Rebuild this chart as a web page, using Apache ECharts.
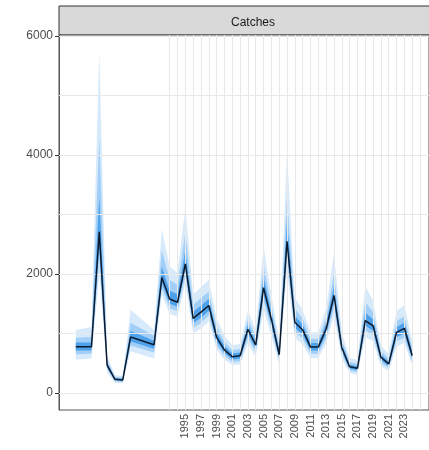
<!DOCTYPE html>
<html>
<head>
<meta charset="utf-8">
<script src="https://cdn.jsdelivr.net/npm/echarts@6/dist/echarts.min.js"></script>
<style>
html,body{margin:0;padding:0;background:#fff;}
#chart{width:429px;height:450px;}
</style>
</head>
<body>
<div id="chart"></div>
<script>
const years   = [1981,1983,1984,1985,1986,1987,1988,1991,1992,1993,1994,1995,1996,1997,1998,1999,2000,2001,2002,2003,2004,2005,2006,2007,2008,2009,2010,2011,2012,2013,2014,2015,2016,2017,2018,2019,2020,2021,2022,2023,2024];
const catches = [778,778,2711,470,230,220,940,810,1940,1580,1525,2170,1255,1360,1470,935,725,610,625,1070,807,1770,1240,645,2550,1190,1060,775,775,1075,1640,765,442,415,1215,1130,600,490,1020,1087,630];
const hiOuter = [1060,1110,5730,620,300,290,1400,1060,2750,2120,2020,3130,1650,1780,1900,1250,960,800,830,1380,1060,2460,1650,870,4050,1600,1400,1020,1020,1420,2350,1020,590,560,1800,1550,800,660,1380,1480,860];
const loOuter = [560,580,2000,350,170,165,700,580,1650,1330,1280,1850,1000,1080,1200,730,560,470,480,830,610,1400,960,480,2050,920,820,590,590,830,1300,580,330,310,940,870,450,370,780,840,470];
const hiMid   = [930,940,4300,560,270,260,1180,960,2400,1900,1820,2700,1480,1600,1700,1110,860,720,740,1240,950,2150,1460,770,3300,1420,1250,910,910,1260,2000,900,520,490,1530,1360,710,580,1210,1290,750];
const loMid   = [650,660,2250,400,195,185,800,680,1760,1420,1380,1970,1090,1180,1300,800,625,520,535,920,690,1560,1070,550,2250,1020,910,660,660,920,1430,650,375,350,1050,970,510,415,870,930,535];
const hiInner = [850,850,3300,510,250,240,1040,880,2120,1720,1660,2400,1360,1470,1580,1020,790,665,680,1150,875,1950,1350,705,2900,1300,1150,840,840,1160,1800,830,480,450,1350,1240,650,530,1110,1180,690];
const loInner = [715,715,2450,432,212,202,865,745,1850,1500,1450,2070,1170,1265,1380,865,670,562,575,990,745,1650,1150,595,2400,1100,980,715,715,990,1530,705,408,382,1130,1045,555,450,940,1000,580];
const xTickYears = [1995,1997,1999,2001,2003,2005,2007,2009,2011,2013,2015,2017,2019,2021,2023];
const yTicks = [0,2000,4000,6000];
const yGrid = [0,1000,2000,3000,4000,5000,6000];
const xGrid = [1993,1994,1995,1996,1997,1998,1999,2000,2001,2002,2003,2004,2005,2006,2007,2008,2009,2010,2011,2012,2013,2014,2015,2016,2017,2018,2019,2020,2021,2022,2023,2024,2025];
const panelTitle = 'Catches';

function band(name, lo, hi, color){
  return {
    name: name, type:'custom', silent:true, z:2,
    data: years.map((y,i)=>[y, lo[i], hi[i]]),
    encode:{x:0, y:[1,2]},
    renderItem: function(params, api){
      if (params.dataIndex !== 0) return null;
      const top = years.map((y,i)=>api.coord([y, hi[i]]));
      const bot = years.map((y,i)=>api.coord([y, lo[i]])).reverse();
      return {type:'polygon', shape:{points: top.concat(bot)}, style:{fill: color}};
    }
  };
}

const chart = echarts.init(document.getElementById('chart'), null, {renderer:'canvas'});
const option = {
  animation:false,
  backgroundColor:'#ffffff',
  title:{text: panelTitle, left: 248, top: 12, textAlign:'center',
    textStyle:{fontFamily:'Liberation Sans, Arial, sans-serif', fontSize:12, fontWeight:'normal', color:'#1a1a1a'}},
  graphic:[{type:'rect', shape:{x:59, y:6, width:380, height:29}, style:{fill:'#d9d9d9', stroke:'#333', lineWidth:1}, z:-1}],
  grid:{left:59, top:35, width:379, height:375, show:true, borderColor:'#555', borderWidth:1, backgroundColor:'#fff'},
  xAxis:{type:'value', min:1978.85, max:2026.15,
    axisLine:{show:true, lineStyle:{color:'#333', width:1}},
    axisTick:{show:true, customValues:xTickYears, length:4, lineStyle:{color:'#333'}},
    axisLabel:{show:true, customValues:xTickYears, rotate:90, margin:4, fontSize:11,
      formatter: v => String(v),
      fontFamily:'Liberation Sans, Arial, sans-serif', color:'#4d4d4d'},
    splitLine:{show:false}},
  yAxis:{type:'value', min:-286, max:6017,
    axisLine:{show:true, lineStyle:{color:'#555', width:1}},
    axisTick:{show:true, customValues:yTicks, length:4, lineStyle:{color:'#333'}},
    axisLabel:{show:true, customValues:yTicks, margin:6, fontSize:12,
      formatter: v => String(v),
      fontFamily:'Liberation Sans, Arial, sans-serif', color:'#4d4d4d'},
    splitLine:{show:false}},
  series:[
    {name:'grid', type:'line', data:[], silent:true, z:1,
     markLine:{silent:true, symbol:'none', label:{show:false}, animation:false,
       lineStyle:{color:'#e8e8e8', width:1, type:'solid'},
       data: xGrid.map(v=>({xAxis:v})).concat(yGrid.map(v=>({yAxis:v})))}},
    band('outer', loOuter, hiOuter, '#d6eafc'),
    band('mid', loMid, hiMid, '#a2cff7'),
    band('inner', loInner, hiInner, '#4ea1eb'),
    {name:'catch', type:'line', data: years.map((y,i)=>[y, catches[i]]), symbol:'none', z:5,
     lineStyle:{color:'#0c1a2b', width:1.5}}
  ]
};
chart.setOption(option);
</script>
</body>
</html>
